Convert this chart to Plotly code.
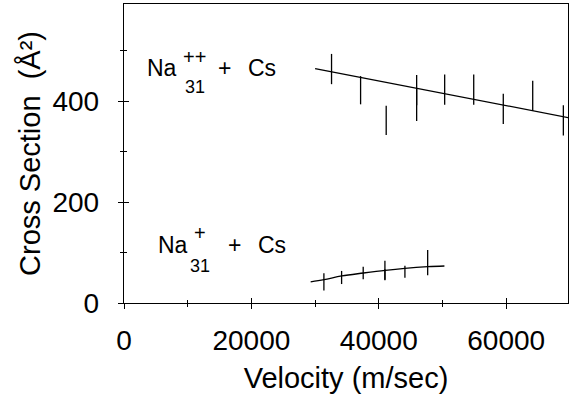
import plotly.graph_objects as go

# ---- data ----
hi_vel = [32580, 37140, 41160, 45940, 45940, 50340, 54900, 59540, 64160, 68970]
hi_cs = [464, 422, 362, 422, 393, 423, 423, 385, 411, 362]
hi_err = [30, 28, 29, 30, 32, 30, 30, 30, 30, 30]
hi_fit_vel = [30000, 70000]
hi_fit_cs = [465, 367]

lo_vel = [31380, 34160, 37550, 40960, 40960, 44100, 47670]
lo_cs = [42, 50.6, 59.5, 65, 56, 62, 80]
lo_err = [17, 13, 12.5, 19, 11, 12, 25]
lo_fit_vel = [29300, 31400, 34200, 37600, 41000, 44100, 47700, 50300]
lo_fit_cs = [41.7, 46.2, 53.6, 59.5, 64.9, 68.8, 72, 73.4]

x_range = [0, 69700]
y_range = [0, 593]
x_title = "Velocity (m/sec)"
y_title = "Cross Section  (Å²)"

FONT = "Liberation Sans, Arial, sans-serif"
W, H = 574, 394
ML, MR, MT, MB = 124, 6, 4, 91
PW, PH = W - ML - MR, H - MT - MB


def px2paper(px, py):
    return (px - ML) / PW, (H - MB - py) / PH


fig = go.Figure()

err_style = dict(type="data", visible=True, width=0, thickness=1.3, color="black")
invisible = dict(size=2, color="rgba(0,0,0,0)")

fig.add_trace(go.Scatter(x=hi_fit_vel, y=hi_fit_cs, mode="lines",
                         line=dict(color="black", width=1.3), showlegend=False))
fig.add_trace(go.Scatter(x=hi_vel, y=hi_cs, mode="markers", marker=invisible,
                         error_y=dict(array=hi_err, **err_style), showlegend=False))
fig.add_trace(go.Scatter(x=lo_fit_vel, y=lo_fit_cs, mode="lines",
                         line=dict(color="black", width=1.3, shape="spline"), showlegend=False))
fig.add_trace(go.Scatter(x=lo_vel, y=lo_cs, mode="markers", marker=invisible,
                         error_y=dict(array=lo_err, **err_style), showlegend=False))
# empty trace so the overlay axes (inner half of crossing ticks) are drawn
fig.add_trace(go.Scatter(x=[None], y=[None], xaxis="x2", yaxis="y2", showlegend=False))

# labels: (text, left px, middle px, font size)
labels = [
    ("Na", 145, 68, 23),
    ("++", 181, 57, 20),
    ("31", 183, 87, 18),
    ("+", 216, 68, 23),
    ("Cs", 246, 68, 23),
    ("Na", 156, 245, 23),
    ("+", 192, 233, 20),
    ("31", 188, 266, 18),
    ("+", 226, 245, 23),
    ("Cs", 256, 245, 23),
]
for txt, px, py, fs in labels:
    ax_, ay_ = px2paper(px, py)
    fig.add_annotation(x=ax_, y=ay_, xref="paper", yref="paper", text=txt,
                       showarrow=False, xanchor="left", yanchor="middle",
                       font=dict(family=FONT, size=fs, color="black"))

axis_common = dict(showgrid=False, zeroline=False, linecolor="black", linewidth=1.3,
                   tickcolor="black", tickwidth=1, ticks="outside", ticklen=5,
                   automargin=False,
                   tickfont=dict(family=FONT, size=28, color="black"))

fig.update_layout(
    width=W, height=H,
    margin=dict(l=ML, r=MR, t=MT, b=MB),
    paper_bgcolor="white", plot_bgcolor="white",
    hovermode=False,
    xaxis=dict(range=x_range, tickmode="linear", tick0=0, dtick=20000, tickformat="d",
               mirror=True, ticklabelstandoff=7,
               minor=dict(dtick=10000, ticks="outside", ticklen=3, tickcolor="black"),
               title=dict(text=x_title, font=dict(family=FONT, size=29, color="black"), standoff=15),
               **axis_common),
    yaxis=dict(range=y_range, tickmode="linear", tick0=0, dtick=200,
               mirror=True, ticklabelstandoff=13,
               minor=dict(dtick=100, ticks="outside", ticklen=3, tickcolor="black"),
               title=dict(text=y_title, font=dict(family=FONT, size=29, color="black"), standoff=3),
               **axis_common),
    xaxis2=dict(range=x_range, overlaying="x", showgrid=False, zeroline=False, showline=False,
                showticklabels=False, ticks="inside", ticklen=5, tickcolor="black",
                tickmode="linear", tick0=0, dtick=20000, automargin=False,
                minor=dict(dtick=10000, ticks="inside", ticklen=3, tickcolor="black")),
    yaxis2=dict(range=y_range, overlaying="y", showgrid=False, zeroline=False, showline=False,
                showticklabels=False, ticks="inside", ticklen=5, tickcolor="black",
                tickmode="linear", tick0=0, dtick=200, automargin=False,
                minor=dict(dtick=100, ticks="inside", ticklen=3, tickcolor="black")),
)

fig.write_html("out.html", config={"displayModeBar": False, "staticPlot": True},
               post_script="document.body.style.margin='0';")
